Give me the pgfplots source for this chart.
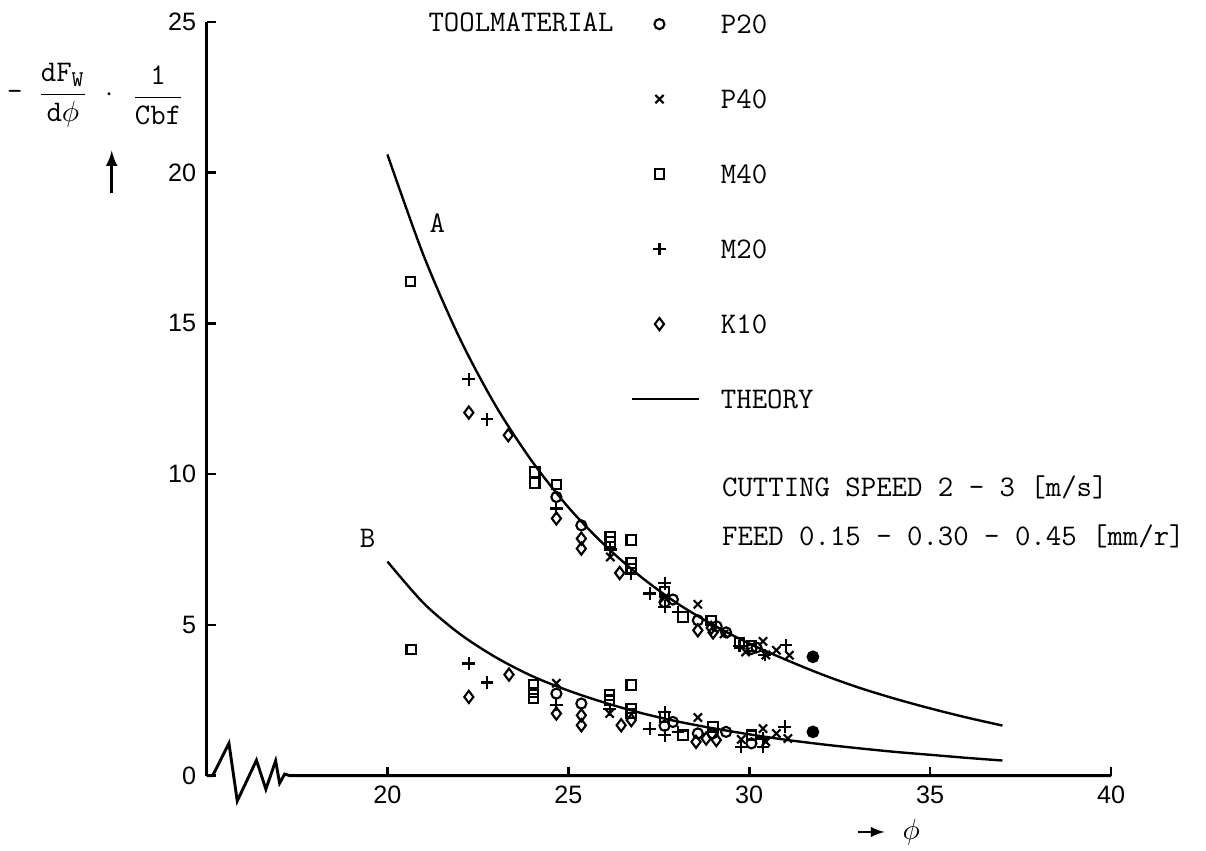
\documentclass[border=0pt]{standalone}
\usepackage{pgfplots}
\pgfplotsset{compat=1.18}
\usepackage{fontspec}
\newfontfamily\sansf{Liberation Sans}
\pgfplotsset{
  markleg/.style={legend image code/.code={\path (0cm,0cm) (0.9cm,0cm);\draw[##1, mark repeat=2, mark phase=2] plot coordinates {(0cm,0cm) (0.37cm,0cm) (0.9cm,0cm)};}},
  lineleg/.style={legend image code/.code={\draw[##1] (0cm,0cm) -- (0.9cm,0cm);}}
}

\begin{document}
\ttfamily\fontsize{11.3}{13.5}\selectfont
\begin{tikzpicture}
\begin{axis}[
  at={(0,0)}, anchor=south west,
  scale only axis, width=12cm, height=10cm,
  xmin=15, xmax=40, ymin=0, ymax=25,
  axis x line=bottom, axis y line=left,
  axis line style={-, line width=1.1pt},
  x axis line style={draw=none},
  xtick={20,25,30,35,40}, ytick={0,5,10,15,20,25},
  tick align=inside, major tick length=0.12cm,
  tick style={line width=1pt, black},
  ticklabel style={font=\sansf\fontsize{9.5}{11}\selectfont},
  /pgf/number format/assume math mode=true,
  clip=false,
  legend style={draw=none, fill=none, at={(axis cs:26.7,25.25)}, anchor=north west,
    inner sep=0pt, row sep=0.749cm, column sep=0.27cm,
    font=\ttfamily\fontsize{11.3}{13.5}\selectfont,
    nodes={inner sep=0pt, text height=7pt, text depth=0pt}},
  legend cell align=left,
  every axis plot/.append style={line width=0.8pt},
]
% P20
\addplot[only marks, mark=o, mark size=1.9pt, markleg] coordinates {
(24.67,9.24) (25.36,8.30) (27.89,5.84) (27.66,5.75) (28.58,5.15) (29.10,4.95) (29.36,4.75) (30.06,4.20) (30.20,4.25)
(24.67,2.72) (25.36,2.39) (27.89,1.78) (28.58,1.40) (28.99,1.40) (29.36,1.45) (30.06,1.07) (27.66,1.65)
};
\addlegendentry{P20}
% P40
\addplot[only marks, mark=x, mark size=2.2pt, markleg] coordinates {
(26.16,7.25) (28.58,5.68) (27.66,5.90) (29.30,4.70) (30.38,4.45) (30.75,4.16) (31.11,3.99) (30.46,4.00) (29.90,4.10)
(24.67,3.06) (26.14,2.06) (28.58,1.93) (29.78,1.20) (30.38,1.56) (30.75,1.40) (30.46,1.12) (31.07,1.23)
};
\addlegendentry{P40}
% M40
\addplot[only marks, mark=square, mark size=1.8pt, markleg] coordinates {
(20.64,16.39) (24.07,10.07) (24.07,9.70) (24.67,9.65) (26.16,7.92) (26.16,7.75) (26.74,7.81) (26.74,7.05) (26.74,6.87)
(27.66,6.10) (28.17,5.26) (28.95,5.15) (29.73,4.40) (30.06,4.30)
(20.66,4.18) (24.04,3.00) (24.04,2.76) (24.04,2.56) (26.14,2.67) (26.14,2.50) (26.74,3.00) (26.74,2.23) (26.74,2.06)
(28.17,1.34) (29.00,1.62) (30.06,1.34) (27.66,1.95)
};
\addlegendentry{M40}
% M20
\addplot[only marks, mark=+, mark size=2.4pt, markleg] coordinates {
(22.25,13.14) (22.75,11.82) (24.67,8.86) (26.16,7.50) (26.74,6.70) (27.25,6.04) (27.66,6.38) (28.03,5.43) (29.73,4.30)
(30.43,4.00) (31.02,4.33) (27.66,5.60)
(22.25,3.72) (22.75,3.09) (24.67,2.34) (26.14,2.20) (27.25,1.56) (27.66,2.11) (28.03,1.45) (29.78,0.95) (30.38,1.23)
(30.38,0.95) (30.98,1.62) (27.66,1.34)
};
\addlegendentry{M20}
% K10
\addplot[only marks, mark=diamond, mark size=2.3pt, markleg] coordinates {
(22.25,12.04) (23.34,11.29) (24.67,8.53) (25.36,7.86) (25.36,7.53) (26.42,6.72) (28.58,4.82) (29.00,4.75) (28.95,4.90)
(22.25,2.61) (23.36,3.35) (24.67,2.06) (25.36,2.00) (25.36,1.67) (26.46,1.67) (26.74,1.84) (28.53,1.12) (28.81,1.23) (29.09,1.18)
};
\addlegendentry{K10}
% theory A
\addplot[smooth, line width=0.9pt, lineleg] coordinates {
(20,20.6) (21,17.25) (22,14.5) (23,12.25) (24,10.42) (25,8.9) (26,7.65) (27,6.6) (28,5.72) (29,5.0)
(30,4.38) (31,3.85) (32,3.36) (33,2.93) (34,2.56) (35,2.23) (36,1.93) (37,1.66)
};
\addlegendentry{THEORY}
% theory B
\addplot[smooth, line width=0.9pt, forget plot] coordinates {
(20,7.1) (21,5.72) (22,4.7) (23,3.92) (24,3.3) (25,2.82) (26,2.42) (27,2.08) (28,1.8) (29,1.57)
(30,1.37) (31,1.19) (32,1.04) (33,0.91) (34,0.79) (35,0.69) (36,0.59) (37,0.5)
};
% overlapping filled points
\addplot[only marks, mark=*, mark size=2.0pt, forget plot] coordinates {(31.76,3.94) (31.76,1.45)};

% broken x axis
\draw[line width=1.1pt, line join=miter] (axis cs:15,0) -- (axis cs:15.17,0) -- (axis cs:15.62,1.07) -- (axis cs:15.85,-0.84)
  -- (axis cs:16.38,0.51) -- (axis cs:16.64,-0.45) -- (axis cs:16.91,0.49) -- (axis cs:17.02,-0.25)
  -- (axis cs:17.16,0.05) -- (axis cs:17.3,0) -- (axis cs:40,0);

\node[anchor=east] at (axis cs:26.54,24.98) {TOOLMATERIAL};
\node at (axis cs:21.38,18.32) {A};
\node at (axis cs:19.45,7.86) {B};
\node[anchor=west] at (axis cs:28.96,9.56) {CUTTING SPEED 2 - 3 [m/s]};
\node[anchor=west] at (axis cs:28.96,7.94) {FEED 0.15 - 0.30 - 0.45 [mm/r]};

% y label
\node at (axis cs:9.70,22.56) {-};
\node at (axis cs:11.03,22.56) {$\displaystyle\frac{\mbox{dF}_{\mbox{\fontsize{8.5}{9}\selectfont W}}}{\mbox{d}\phi}$};
\node at (axis cs:12.33,22.56) {$\cdot$};
\node at (axis cs:13.66,22.56) {$\displaystyle\frac{\mbox{1}}{\mbox{Cbf}}$};
\draw[-latex, line width=1pt] (axis cs:12.38,19.31) -- (axis cs:12.38,20.73);

% x label
\draw[-latex, line width=0.8pt] (axis cs:33.0,-1.87) -- (axis cs:33.74,-1.87);
\node[anchor=west] at (axis cs:33.95,-1.87) {$\phi$};
\end{axis}
\pgfresetboundingbox
\path[use as bounding box] (-2.74,-1.0) rectangle (13.26,10.29);
\end{tikzpicture}
\end{document}
